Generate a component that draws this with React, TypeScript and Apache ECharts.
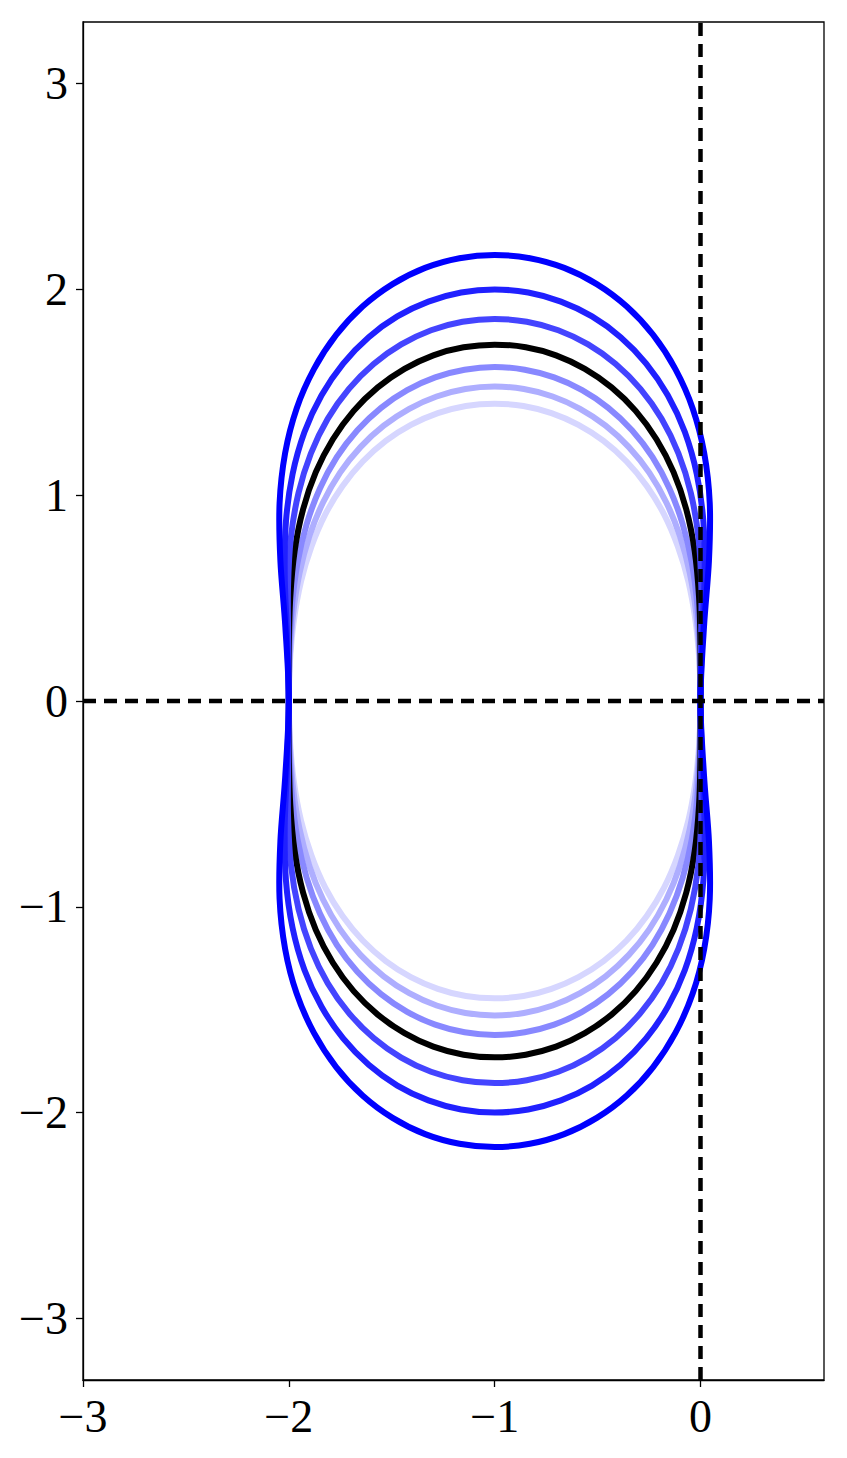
import React, { useEffect, useRef } from "react";
import * as echarts from "echarts";

// Upper-left quarter of each closed curve, from the top (x = -1) down to (-2, 0).
// The curves are symmetric about x = -1 and about y = 0.
const curve1: number[][] = [[-1, 2.168], [-1.171, 2.152], [-1.338, 2.105], [-1.496, 2.026], [-1.642, 1.917], [-1.77, 1.779], [-1.878, 1.613], [-1.962, 1.422], [-2.018, 1.205], [-2.045, 0.96], [-2.041, 0.681], [-2.017, 0.361], [-2, 0]];
const curve2: number[][] = [[-1, 2.0], [-1.163, 1.985], [-1.322, 1.941], [-1.473, 1.869], [-1.612, 1.768], [-1.736, 1.64], [-1.841, 1.486], [-1.924, 1.307], [-1.982, 1.102], [-2.014, 0.872], [-2.02, 0.613], [-2.009, 0.321], [-2, 0]];
const curve3: number[][] = [[-1, 1.857], [-1.156, 1.843], [-1.309, 1.802], [-1.454, 1.733], [-1.588, 1.638], [-1.708, 1.517], [-1.811, 1.372], [-1.893, 1.203], [-1.953, 1.011], [-1.99, 0.795], [-2.004, 0.554], [-2.003, 0.287], [-2, 0]];
const curveBlack: number[][] = [[-1, 1.732], [-1.151, 1.719], [-1.298, 1.68], [-1.438, 1.614], [-1.568, 1.524], [-1.685, 1.41], [-1.786, 1.272], [-1.869, 1.112], [-1.931, 0.931], [-1.972, 0.728], [-1.993, 0.504], [-2.0, 0.259], [-2, 0]];
const curve5: number[][] = [[-1, 1.623], [-1.146, 1.61], [-1.289, 1.573], [-1.425, 1.511], [-1.552, 1.425], [-1.667, 1.316], [-1.767, 1.185], [-1.849, 1.033], [-1.913, 0.861], [-1.958, 0.671], [-1.985, 0.461], [-1.997, 0.236], [-2, 0]];
const curve6: number[][] = [[-1, 1.528], [-1.142, 1.516], [-1.282, 1.48], [-1.415, 1.42], [-1.539, 1.338], [-1.652, 1.234], [-1.751, 1.11], [-1.834, 0.965], [-1.9, 0.802], [-1.948, 0.622], [-1.979, 0.426], [-1.995, 0.217], [-2, 0]];
const curve7: number[][] = [[-1, 1.445], [-1.14, 1.434], [-1.276, 1.399], [-1.407, 1.342], [-1.529, 1.264], [-1.641, 1.164], [-1.739, 1.045], [-1.823, 0.907], [-1.89, 0.751], [-1.941, 0.581], [-1.975, 0.396], [-1.994, 0.201], [-2, 0]];

const curveColors = ["#d6d6ff", "#aeaeff", "#8888ff", "#000000", "#4444ff", "#2020ff", "#0000ff"];
const curveQuarters = [curve7, curve6, curve5, curveBlack, curve3, curve2, curve1];

const xTicks = [-3, -2, -1, 0];
const yTicks = [-3, -2, -1, 0, 1, 2, 3];
const xRange = [-3, 0.6];
const yRange = [-3.3, 3.3];

// Build the closed loop by mirroring the read quarter (symmetry of the picture).
function toLoop(q: number[][]): number[][] {
  const ul = q.map(([x, y]) => [x, y]);
  const ll = q.slice(0, -1).reverse().map(([x, y]) => [x, -y]);
  const lr = q.slice(1).map(([x, y]) => [-2 - x, -y]);
  const ur = q.slice(1, -1).reverse().map(([x, y]) => [-2 - x, y]);
  return [...ul, ...ll, ...lr, ...ur];
}

// A closed smooth stroke through the given pixel points (Catmull-Rom drawn as cubic Béziers).
const SmoothLoop = (echarts.graphic as any).extendShape({
  shape: { points: [] as number[][] },
  buildPath(ctx: any, shape: any) {
    const p: number[][] = shape.points;
    const n = p.length;
    if (n < 3) return;
    ctx.moveTo(p[0][0], p[0][1]);
    for (let i = 0; i < n; i++) {
      const p0 = p[(i - 1 + n) % n];
      const p1 = p[i];
      const p2 = p[(i + 1) % n];
      const p3 = p[(i + 2) % n];
      ctx.bezierCurveTo(
        p1[0] + (p2[0] - p0[0]) / 6,
        p1[1] + (p2[1] - p0[1]) / 6,
        p2[0] - (p3[0] - p1[0]) / 6,
        p2[1] - (p3[1] - p1[1]) / 6,
        p2[0],
        p2[1]
      );
    }
    ctx.closePath();
  },
});
(echarts.graphic as any).registerShape("smoothLoop", SmoothLoop);

const fmt = (v: number) => (v < 0 ? "\u2212" + Math.abs(v) : String(v));

export default function App() {
  const ref = useRef<HTMLDivElement>(null);
  useEffect(() => {
    if (!ref.current) return;
    const chart = echarts.init(ref.current, null, { renderer: "svg" });
    const font = "'Liberation Serif', 'DejaVu Serif', serif";
    const series: any[] = [];
    curveQuarters.forEach((q, i) => {
      const loop = toLoop(q);
      series.push({
        type: "custom",
        coordinateSystem: "cartesian2d",
        data: [[-1, 0]],
        encode: { x: 0, y: 1 },
        silent: true,
        clip: true,
        z: 2,
        renderItem: (_params: any, api: any) => ({
          type: "smoothLoop",
          shape: { points: loop.map((p) => api.coord(p)) },
          style: { stroke: curveColors[i], lineWidth: 6, fill: "none" },
        }),
      });
    });
    series.push(
      {
        type: "line",
        data: [[0, yRange[0]], [0, yRange[1]]],
        showSymbol: false,
        lineStyle: { color: "#000", width: 4.5, type: [13, 8] },
        silent: true,
        z: 3,
      },
      {
        type: "line",
        data: [[xRange[0], 0], [xRange[1], 0]],
        showSymbol: false,
        lineStyle: { color: "#000", width: 4.5, type: [13, 8] },
        silent: true,
        z: 3,
      }
    );
    chart.setOption({
      animation: false,
      backgroundColor: "#fff",
      grid: {
        left: 83,
        top: 22,
        right: 23,
        bottom: 78,
        show: true,
        borderColor: "#000",
        borderWidth: 1.3,
      },
      xAxis: {
        type: "value",
        min: xRange[0],
        max: xRange[1],
        axisLine: { show: true, onZero: false, lineStyle: { color: "#000", width: 1.3 } },
        axisTick: { show: true, length: 7, customValues: xTicks, lineStyle: { color: "#000", width: 1.3 } },
        axisLabel: {
          customValues: xTicks,
          formatter: (v: number) => fmt(v),
          fontFamily: font,
          fontSize: 46,
          color: "#000",
          margin: 13,
        },
        splitLine: { show: false },
      },
      yAxis: {
        type: "value",
        min: yRange[0],
        max: yRange[1],
        axisLine: { show: true, onZero: false, lineStyle: { color: "#000", width: 1.3 } },
        axisTick: { show: true, length: 7, customValues: yTicks, lineStyle: { color: "#000", width: 1.3 } },
        axisLabel: {
          customValues: yTicks,
          formatter: (v: number) => fmt(v),
          fontFamily: font,
          fontSize: 46,
          color: "#000",
          margin: 15,
        },
        splitLine: { show: false },
      },
      series,
    });
    return () => chart.dispose();
  }, []);
  return (
    <div
      ref={ref}
      style={{ position: "fixed", left: 0, top: 0, width: 847, height: 1458, background: "#fff" }}
    />
  );
}
